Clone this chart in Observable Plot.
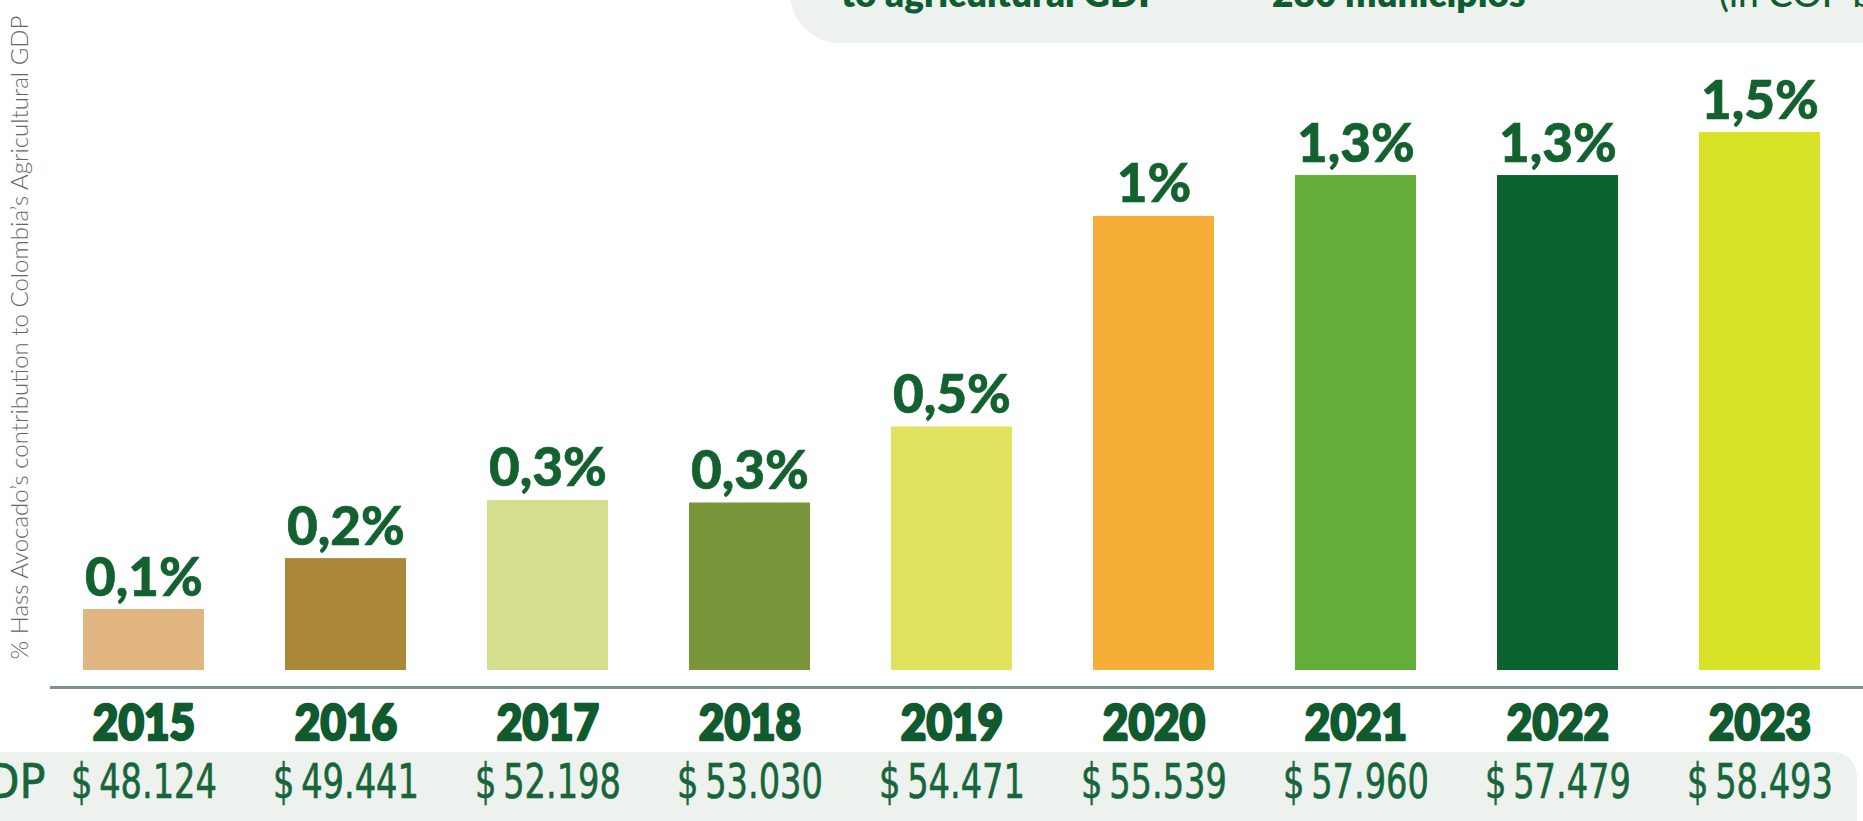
<!DOCTYPE html>
<html>
<head>
<meta charset="utf-8">
<script src="https://cdn.jsdelivr.net/npm/d3@7"></script>
<script src="https://cdn.jsdelivr.net/npm/@observablehq/plot@0.6"></script>
<style>
  html, body { margin: 0; padding: 0; background: #ffffff; }
  #wrap { position: relative; width: 1863px; height: 821px; overflow: hidden; background: #ffffff; }
  #band { position: absolute; left: -40px; top: 752px; width: 1897px; height: 120px; border-radius: 24px; background: #edf2ef; }
  #header { position: absolute; left: 0; top: 0; }
  #chart { position: absolute; left: 0; top: 0; }
</style>
</head>
<body>
<div id="wrap">
  <div id="band"></div>
  <svg id="header" width="1863" height="60">
    <rect x="790" y="-60" width="1200" height="103" rx="50" ry="50" fill="#edf2ef"></rect>
    <text x="841" y="7" font-family="Lato, 'Open Sans', sans-serif" font-weight="800" font-size="37" fill="#0e5c30">to agricultural GDP</text>
    <text x="1272" y="7" font-family="Lato, 'Open Sans', sans-serif" font-weight="800" font-size="37" fill="#0e5c30">280 municipios</text>
    <text x="1719" y="7" font-family="Lato, 'Open Sans', sans-serif" font-weight="500" font-size="37" fill="#0e5c30">(in COP billions)</text>
  </svg>
  <div id="chart"></div>
</div>
<script>
// ---- data ----
const years = ["2015", "2016", "2017", "2018", "2019", "2020", "2021", "2022", "2023"];
// Hass avocado share of Colombia's agricultural GDP (%), as labelled
const share = [0.1, 0.2, 0.3, 0.3, 0.5, 1, 1.3, 1.3, 1.5];
// bar lengths as drawn in the infographic (not to scale), read off in % units
const barLength = [0.17, 0.312, 0.474, 0.467, 0.679, 1.266, 1.38, 1.38, 1.5];
// agricultural GDP (COP billions)
const gdp = [48124, 49441, 52198, 53030, 54471, 55539, 57960, 57479, 58493];
const colors = ["#e0b57f", "#ab8837", "#d4de8e", "#7a963b", "#e1e35e", "#f7ae38", "#62ae38", "#0b632f", "#d8e327"];
const yTitle = "% Hass Avocado\u2019s contribution to Colombia\u2019s Agricultural GDP";
const gdpLabel = "GDP";

const data = years.map((y, i) => ({year: y, share: share[i], bar: barLength[i], gdp: gdp[i], color: colors[i]}));

const locale = d3.formatLocale({decimal: ",", thousands: ".", grouping: [3], currency: ["$\u2009", ""]});
const fmtMoney = locale.format("$,");
const fmtShare = v => String(v).replace(".", ",") + "%";

const green = "#12612f";
const moneyFont = "'Liberation Sans Narrow', 'DejaVu Sans Condensed', sans-serif";

const chart = Plot.plot({
  width: 1863,
  height: 821,
  marginLeft: 41,
  marginRight: 0,
  marginTop: 132,
  marginBottom: 151,
  style: {background: "transparent", overflow: "visible"},
  x: {type: "band", domain: years, paddingInner: 0.4, paddingOuter: 0.2, axis: null},
  y: {domain: [0, 1.5], nice: false, axis: null},
  color: {type: "identity"},
  marks: [
    Plot.barY(data, {x: "year", y: "bar", fill: "color"}),
    Plot.ruleY([0], {dy: 17, stroke: "#7d928b", strokeWidth: 3, insetLeft: 9}),
    Plot.text(data, {x: "year", y: "bar", text: d => fmtShare(d.share), dy: -14, lineAnchor: "bottom",
      fontSize: 53, fontWeight: 900, fontFamily: "Lato, 'Open Sans', sans-serif", fill: green,
      stroke: green, strokeWidth: 0.6}),
    Plot.text(data, {x: "year", text: "year", frameAnchor: "bottom", dy: 69, lineAnchor: "bottom",
      fontSize: 49, fontWeight: 900, fontFamily: "Lato, 'Open Sans', sans-serif", fill: "#0f5a2e",
      stroke: "#0f5a2e", strokeWidth: 2.6}),
    Plot.text(data, {x: "year", text: d => fmtMoney(d.gdp), frameAnchor: "bottom", dy: 127, lineAnchor: "bottom",
      fontSize: 48, fontWeight: 400, fontFamily: moneyFont, fill: "#17653a", stroke: "#17653a", strokeWidth: 0.6}),
    Plot.text([gdpLabel], {frameAnchor: "bottom-left", dx: 4, dy: 127, textAnchor: "end", lineAnchor: "bottom",
      fontSize: 48, fontWeight: 400, fontFamily: moneyFont, fill: "#17653a", stroke: "#17653a", strokeWidth: 0.6}),
    Plot.text([yTitle], {frameAnchor: "bottom-left", dx: -14, dy: -11, rotate: -90, textAnchor: "start",
      fontSize: 24, fontWeight: 300, fontFamily: "Lato, 'Open Sans', sans-serif", fill: "#666666"})
  ]
});
document.getElementById("chart").appendChild(chart);

// condense some rows horizontally (the reference uses narrow typefaces)
const yearSet = new Set(years);
d3.select(chart).selectAll("text").each(function() {
  const t = this.textContent;
  const isMoney = t.startsWith("$");
  const isLabel = t === gdpLabel && this.getAttribute("text-anchor") === "end";
  const isYear = yearSet.has(t);
  if (!isMoney && !isLabel && !isYear) return;
  const b = this.getBBox();
  const px = isLabel ? b.x + b.width : b.x + b.width / 2;
  const k = isYear ? 0.9 : 0.78;
  const prev = this.getAttribute("transform") || "";
  this.setAttribute("transform", `${prev} translate(${px} 0) scale(${k} 1) translate(${-px} 0)`);
});
</script>
</body>
</html>
